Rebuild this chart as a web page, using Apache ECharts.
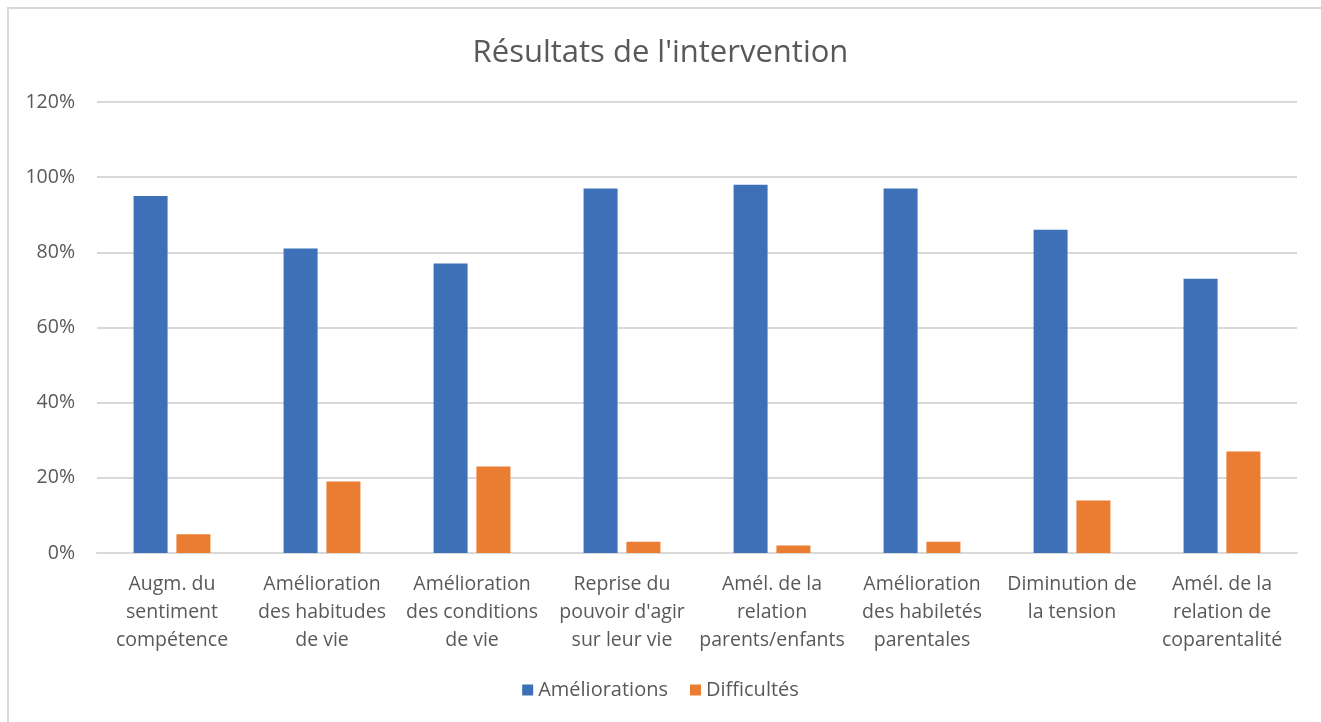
<!DOCTYPE html>
<html>
<head>
<meta charset="utf-8">
<script src="https://cdn.jsdelivr.net/npm/echarts@6/dist/echarts.min.js"></script>
<style>
  html, body { margin: 0; padding: 0; background: #fff; }
  #frame { position: absolute; left: 7px; top: 7px; width: 1330px; height: 730px; border-left: 2px solid #d9d9d9; border-top: 2px solid #d9d9d9; }
  #chart { position: absolute; left: 0; top: 0; width: 1321px; height: 722px; }
</style>
</head>
<body>
<div id="frame"></div>
<div id="chart"></div>
<script>
const categories = [
  "Augm. du\nsentiment\ncompétence",
  "Amélioration\ndes habitudes\nde vie",
  "Amélioration\ndes conditions\nde vie",
  "Reprise du\npouvoir d'agir\nsur leur vie",
  "Amél. de la\nrelation\nparents/enfants",
  "Amélioration\ndes habiletés\nparentales",
  "Diminution de\nla tension",
  "Amél. de la\nrelation de\ncoparentalité"
];
const ameliorations = [95, 81, 77, 97, 98, 97, 86, 73];
const difficultes = [5, 19, 23, 3, 2, 3, 14, 27];
const seriesNames = ["Améliorations", "Difficultés"];
const titleText = "Résultats de l'intervention";

const font = "'Open Sans', 'Noto Sans', sans-serif";
const textColor = "#595959";

const chart = echarts.init(document.getElementById('chart'), null, { renderer: 'canvas' });
chart.setOption({
  backgroundColor: 'transparent',
  animation: false,
  title: {
    text: titleText,
    left: 'center',
    top: 33,
    textStyle: { fontFamily: font, fontSize: 31, fontWeight: 'normal', color: textColor }
  },
  legend: {
    data: seriesNames,
    bottom: 17,
    left: 'center',
    itemWidth: 11,
    itemHeight: 11,
    itemGap: 22,
    icon: 'rect',
    textStyle: { fontFamily: font, fontSize: 20, color: textColor }
  },
  grid: { left: 97, right: 24, top: 102, bottom: 169, containLabel: false },
  xAxis: {
    type: 'category',
    data: categories,
    axisLine: { lineStyle: { color: '#d9d9d9', width: 2 } },
    axisTick: { show: false },
    axisLabel: {
      interval: 0,
      margin: 17,
      fontFamily: font,
      fontSize: 19.5,
      lineHeight: 28,
      color: textColor
    }
  },
  yAxis: {
    type: 'value',
    min: 0,
    max: 120,
    interval: 20,
    axisLine: { show: false },
    axisTick: { show: false },
    splitLine: { lineStyle: { color: '#d9d9d9', width: 2 } },
    axisLabel: {
      formatter: '{value}%',
      margin: 22,
      fontFamily: font,
      fontSize: 19.5,
      color: textColor
    }
  },
  series: [
    {
      name: seriesNames[0],
      type: 'bar',
      data: ameliorations,
      barWidth: 34,
      barGap: '26%',
      itemStyle: { color: '#3D70B6' }
    },
    {
      name: seriesNames[1],
      type: 'bar',
      data: difficultes,
      barWidth: 34,
      itemStyle: { color: '#EA7D31' }
    }
  ]
});
</script>
</body>
</html>
